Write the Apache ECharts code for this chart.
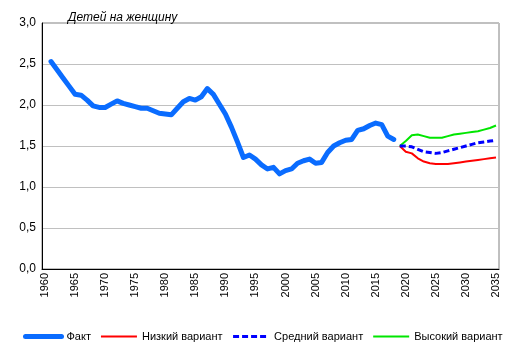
<!DOCTYPE html>
<html><head><meta charset="utf-8">
<script src="https://cdn.jsdelivr.net/npm/echarts@6/dist/echarts.min.js"></script>
<style>html,body{margin:0;padding:0;background:#fff}#c{width:515px;height:355px}</style>
</head><body><div id="c"></div>
<script>
var years = ['1960','1961','1962','1963','1964','1965','1966','1967','1968','1969',
'1970','1971','1972','1973','1974','1975','1976','1977','1978','1979',
'1980','1981','1982','1983','1984','1985','1986','1987','1988','1989',
'1990','1991','1992','1993','1994','1995','1996','1997','1998','1999',
'2000','2001','2002','2003','2004','2005','2006','2007','2008','2009',
'2010','2011','2012','2013','2014','2015','2016','2017','2018','2019',
'2020','2021','2022','2023','2024','2025','2026','2027','2028','2029',
'2030','2031','2032','2033','2034','2035'];
// Факт: 1961..2018
var factYears = years.slice(1, 59);
var factValues = [2.53,2.43,2.33,2.23,2.13,2.12,2.06,1.99,1.97,1.97,
2.01,2.05,2.02,2.00,1.98,1.96,1.96,1.93,1.90,1.89,
1.88,1.96,2.04,2.08,2.06,2.10,2.20,2.13,2.01,1.89,
1.73,1.55,1.36,1.39,1.34,1.27,1.22,1.24,1.16,1.20,
1.22,1.29,1.32,1.34,1.29,1.30,1.42,1.50,1.54,1.57,
1.58,1.69,1.71,1.75,1.78,1.76,1.62,1.58];
// Projections: 2019..2035
var projYears = years.slice(59);
var lowValues  = [1.50,1.43,1.41,1.35,1.31,1.29,1.28,1.28,1.28,1.29,1.30,1.31,1.32,1.33,1.34,1.35,1.36];
var midValues  = [1.50,1.50,1.49,1.46,1.43,1.42,1.41,1.42,1.44,1.46,1.48,1.50,1.52,1.54,1.55,1.56,1.57];
var highValues = [1.50,1.56,1.63,1.64,1.62,1.60,1.60,1.60,1.62,1.64,1.65,1.66,1.67,1.68,1.70,1.72,1.75];
var seriesNames = ['Факт','Низкий вариант','Средний вариант','Высокий вариант'];
var yTicks = [0,0.5,1,1.5,2,2.5,3];

function pairs(xs, vs){ return xs.map(function(x,i){ return [x, vs[i]]; }); }

var chart = echarts.init(document.getElementById('c'), null, {renderer:'canvas'});
var font = 'Arial, "Liberation Sans", sans-serif';
chart.setOption({
  animation:false,
  textStyle:{fontFamily:font},
  title:{text:'Детей на женщину', left:63, top:7,
    textStyle:{fontFamily:font, fontSize:12, fontStyle:'italic', fontWeight:'normal', color:'#000'}},
  grid:{left:42, right:16, top:23, bottom:86, show:true, borderColor:'#808080', borderWidth:1, backgroundColor:'transparent'},
  legend:{
    data:seriesNames, left:23, top:331, width:490, padding:0, itemWidth:36, itemHeight:6, itemGap:9,
    textStyle:{fontFamily:font, fontSize:11, color:'#000'},
    lineStyle:{width:'inherit'},
    itemStyle:{color:'transparent', borderColor:'transparent', borderWidth:0, opacity:0}
  },
  xAxis:{
    type:'category', data:years, boundaryGap:true,
    axisLine:{lineStyle:{color:'#000', width:1}},
    axisTick:{show:false},
    axisLabel:{interval:4, rotate:90, margin:4, fontSize:11, color:'#000', fontFamily:font},
    splitLine:{show:false}
  },
  yAxis:{
    type:'value', min:yTicks[0], max:yTicks[yTicks.length-1], interval:0.5,
    axisLine:{show:true, lineStyle:{color:'#000', width:1}},
    axisTick:{show:false},
    axisLabel:{margin:6, fontSize:12, color:'#000', fontFamily:font,
      formatter:function(v){ return v.toFixed(1).replace('.', ','); }},
    splitLine:{lineStyle:{color:'#c0c0c0', width:1}}
  },
  series:[
    {name:seriesNames[0], type:'line', data:pairs(factYears, factValues), symbol:'none', smooth:false,
     lineStyle:{color:'#0a6cff', width:5, cap:'round', join:'round'}, itemStyle:{color:'#0a6cff'}, z:3},
    {name:seriesNames[1], type:'line', data:pairs(projYears, lowValues), symbol:'none',
     lineStyle:{color:'#ff0000', width:2, join:'round'}, itemStyle:{color:'#ff0000'}},
    {name:seriesNames[2], type:'line', data:pairs(projYears, midValues), symbol:'none',
     lineStyle:{color:'#0000ff', width:3, type:[6,3], join:'round'}, itemStyle:{color:'#0000ff'}, z:4},
    {name:seriesNames[3], type:'line', data:pairs(projYears, highValues), symbol:'none',
     lineStyle:{color:'#00e600', width:2, join:'round'}, itemStyle:{color:'#00e600'}}
  ]
});
</script></body></html>
